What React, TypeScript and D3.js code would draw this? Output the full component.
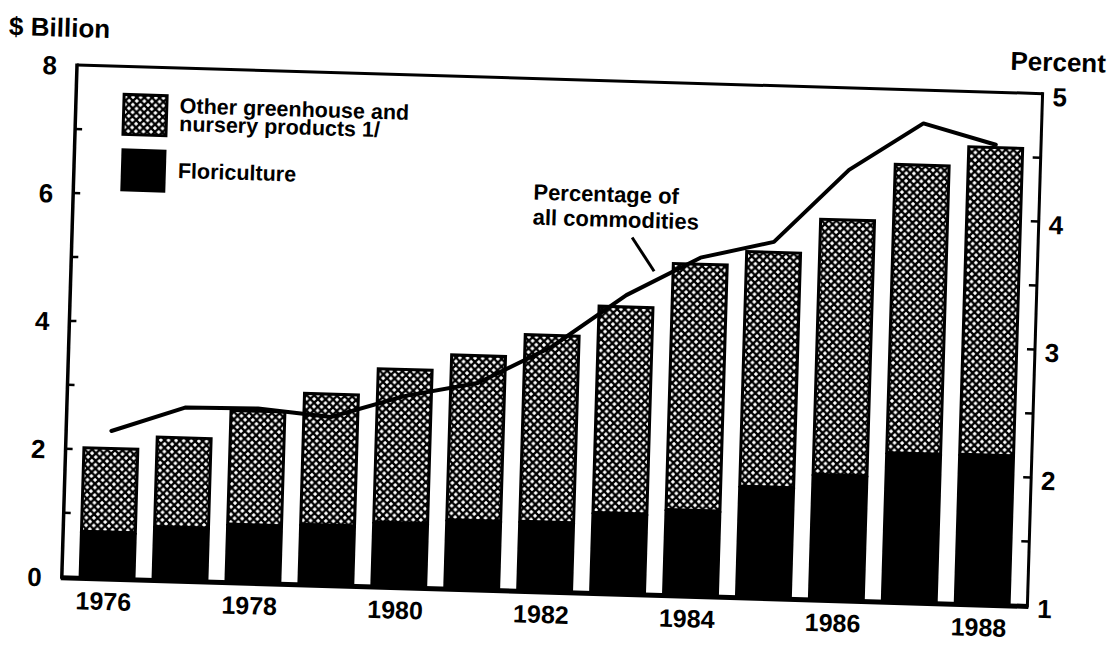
import React from 'react';
import * as d3 from 'd3';

// values (page is tilted ~1.7deg, so read in plot frame)
const years = [1976, 1977, 1978, 1979, 1980, 1981, 1982, 1983, 1984, 1985, 1986, 1987, 1988];
const floriculture = [0.72, 0.83, 0.9, 0.93, 1.0, 1.07, 1.08, 1.25, 1.33, 1.73, 1.95, 2.32, 2.33];
const otherNursery = [1.33, 1.42, 1.8, 2.07, 2.42, 2.6, 2.94, 3.25, 3.87, 3.69, 4.01, 4.53, 4.83];
const percentOfAll = [2.15, 2.35, 2.36, 2.31, 2.49, 2.61, 2.91, 3.33, 3.64, 3.78, 4.36, 4.74, 4.59];

const yearLabels = [1976, 1978, 1980, 1982, 1984, 1986, 1988];
const leftTickLabels = [0, 2, 4, 6, 8];
const leftTicks = [1, 2, 3, 4, 5, 6, 7];
const rightTickLabels = [1, 2, 3, 4, 5];
const rightTicks = [1.5, 2, 2.5, 3, 3.5, 4, 4.5];

const W = 966;
const H = 512;
const FONT = '"Liberation Sans", Arial, Helvetica, sans-serif';

const App = () => {
  const x = d3.scaleBand<number>().domain(years).range([0, W]).paddingInner(0.22).paddingOuter(0.23);
  const yLeft = d3.scaleLinear().domain([0, 8]).range([H, 0]);
  const yRight = d3.scaleLinear().domain([1, 5]).range([H, 0]);

  const rows = years.map((yr, i) => ({ year: yr, flori: floriculture[i], other: otherNursery[i] }));
  const stacked = d3.stack<any>().keys(['flori', 'other'])(rows);

  const line = d3
    .line<number>()
    .x((_, i) => (x(years[i]) as number) + x.bandwidth() / 2)
    .y(d => yRight(d));

  return (
    <svg
      width={1110}
      height={645}
      style={{ position: 'absolute', left: 0, top: 0, background: '#fff' }}
      fontFamily={FONT}
      fontWeight="bold"
    >
      <defs>
        <pattern id="hatch" width={7.6} height={7.6} patternUnits="userSpaceOnUse">
          <rect width={7.6} height={7.6} fill="#fff" />
          <path d="M-1,-1 L8.6,8.6 M8.6,-1 L-1,8.6" stroke="#000" strokeWidth={2.3} />
        </pattern>
      </defs>
      <g transform="translate(77,65) rotate(1.7)">
        {/* bars */}
        {stacked[0].map((d, i) => (
          <rect
            key={'f' + i}
            x={x(years[i])}
            y={yLeft(d[1])}
            width={x.bandwidth()}
            height={yLeft(d[0]) - yLeft(d[1])}
            fill="#000"
          />
        ))}
        {stacked[1].map((d, i) => (
          <rect
            key={'o' + i}
            x={(x(years[i]) as number) + 1.5}
            y={yLeft(d[1]) + 1.5}
            width={x.bandwidth() - 3}
            height={yLeft(d[0]) - yLeft(d[1]) - 1.5}
            fill="url(#hatch)"
            stroke="#000"
            strokeWidth={3}
          />
        ))}

        {/* frame */}
        <line x1={0} y1={0} x2={W} y2={0} stroke="#000" strokeWidth={3} />
        <line x1={0} y1={-1.5} x2={0} y2={H + 2} stroke="#000" strokeWidth={3.5} />
        <line x1={W} y1={-1.5} x2={W} y2={H + 2} stroke="#000" strokeWidth={3} />
        <line x1={-1} y1={H + 1} x2={W + 1} y2={H + 1} stroke="#000" strokeWidth={5} />

        {leftTicks.map(t => (
          <line key={'lt' + t} x1={0} x2={7} y1={yLeft(t)} y2={yLeft(t)} stroke="#000" strokeWidth={2.5} />
        ))}
        {rightTicks.map(t => (
          <line key={'rt' + t} x1={W - 8} x2={W} y1={yRight(t)} y2={yRight(t)} stroke="#000" strokeWidth={2.5} />
        ))}

        {/* percent line */}
        <path
          d={line(percentOfAll) || ''}
          fill="none"
          stroke="#000"
          strokeWidth={4}
          strokeLinejoin="round"
          strokeLinecap="round"
        />

        {/* axis labels */}
        {leftTickLabels.map(v => (
          <text key={'ll' + v} x={-20} y={yLeft(v) + 10} textAnchor="end" fontSize={26}>
            {v}
          </text>
        ))}
        {rightTickLabels.map(v => (
          <text key={'rl' + v} x={W + 10} y={yRight(v) + 12} fontSize={26}>
            {v}
          </text>
        ))}
        {yearLabels.map(yr => (
          <text
            key={'yl' + yr}
            x={(x(yr) as number) + x.bandwidth() / 2 - 3}
            y={H + 32}
            textAnchor="middle"
            fontSize={25}
          >
            {yr}
          </text>
        ))}
        <text x={-69} y={-28} fontSize={26}>
          $ Billion
        </text>
        <text x={933} y={-23} fontSize={26}>
          Percent
        </text>

        {/* legend */}
        <rect x={48} y={28} width={43} height={40} fill="url(#hatch)" stroke="#000" strokeWidth={3} />
        <rect x={47} y={82} width={45} height={43} fill="#000" />
        <text x={104} y={45} fontSize={21.5}>
          Other greenhouse and
        </text>
        <text x={104} y={63} fontSize={21.5}>
          nursery products 1/
        </text>
        <text x={104} y={110} fontSize={21.5}>
          Floriculture
        </text>

        {/* annotation */}
        <text x={460} y={121} fontSize={22}>
          Percentage of
        </text>
        <text x={460} y={146} fontSize={22}>
          all commodities
        </text>
        <line x1={560} y1={156} x2={583} y2={189} stroke="#000" strokeWidth={3} />
      </g>
    </svg>
  );
};

export default App;
